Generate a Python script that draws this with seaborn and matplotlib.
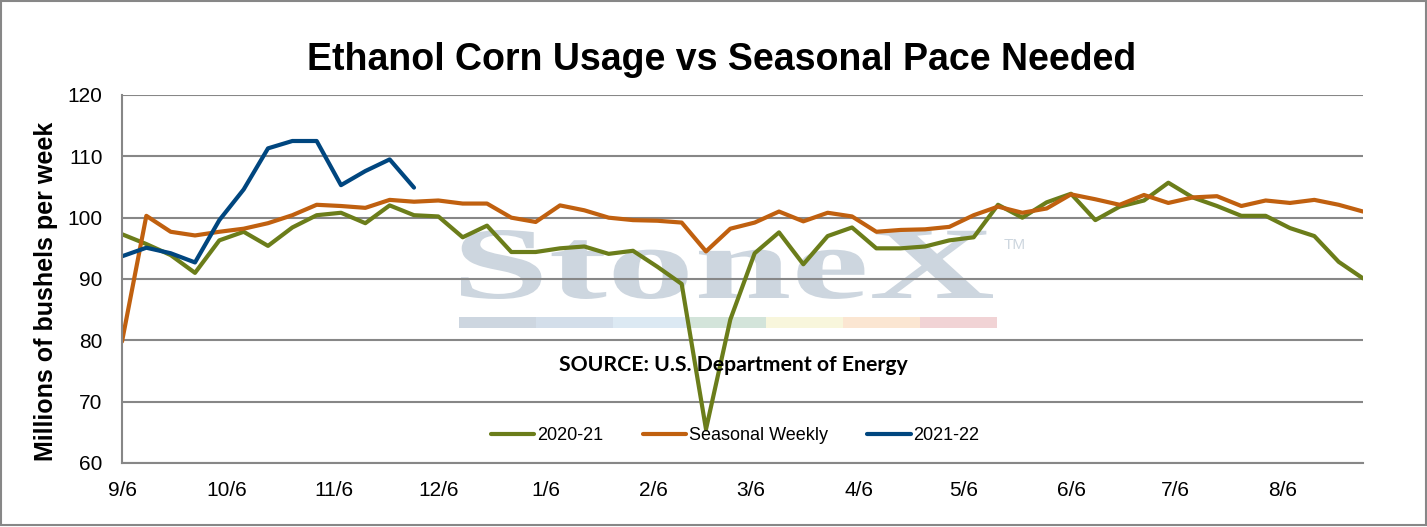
"""
Ethanol corn usage vs the seasonal weekly pace needed (StoneX style chart).

Output:
    out.png
"""

import matplotlib

matplotlib.use("Agg")

import matplotlib.dates as mdates
import matplotlib.pyplot as plt
import pandas as pd
import seaborn as sns
from matplotlib.font_manager import FontProperties
from matplotlib.patches import PathPatch, Rectangle
from matplotlib.textpath import TextPath
from matplotlib.ticker import FuncFormatter
from matplotlib.transforms import Affine2D

W, H = 1427, 527

# weekly data, first week ending 9/6
WEEK_START = "2020-09-06"
N_WEEKS = 52

usage_2020_21 = [
    97.3, 95.7, 93.9, 91.0, 96.3, 97.7, 95.4, 98.4, 100.4, 100.8,
    99.1, 102.0, 100.4, 100.2, 96.8, 98.7, 94.4, 94.4, 95.0, 95.3,
    94.1, 94.6, 92.0, 89.2, 65.5, 83.4, 94.2, 97.6, 92.4, 97.0,
    98.4, 95.0, 95.0, 95.3, 96.3, 96.8, 102.1, 100.0, 102.5, 103.9,
    99.6, 101.8, 102.8, 105.7, 103.3, 101.9, 100.3, 100.3, 98.3, 97.0,
    92.8, 90.1,
]
seasonal_weekly = [
    79.8, 100.3, 97.7, 97.1, 97.7, 98.2, 99.1, 100.4, 102.1, 101.9,
    101.6, 102.9, 102.6, 102.8, 102.3, 102.3, 100.0, 99.3, 102.0, 101.2,
    100.0, 99.6, 99.5, 99.2, 94.5, 98.2, 99.2, 101.0, 99.4, 100.8,
    100.2, 97.7, 98.0, 98.1, 98.5, 100.4, 101.8, 100.8, 101.5, 103.8,
    103.0, 102.1, 103.7, 102.4, 103.3, 103.5, 101.9, 102.8, 102.4, 102.9,
    102.1, 101.0,
]
usage_2021_22 = [
    93.7, 95.1, 94.2, 92.7, 99.6, 104.6, 111.3, 112.5, 112.5, 105.3,
    107.6, 109.5, 104.9,
]

SERIES_NAMES = ["2020-21", "Seasonal Weekly", "2021-22"]
SERIES_COLORS = ["#6B7D1A", "#C0600F", "#00467F"]
Y_TICKS = [60, 70, 80, 90, 100, 110, 120]

GRID_COLOR = "#878787"
MARK_COLOR = "#CDD6DF"
BAR_COLORS = ["#CDD6E0", "#D3DEEA", "#DCE9F3", "#D3E4DA", "#F8F6DC", "#FBE6D2", "#F1D3D5"]


def fx(px):
    return px / W


def fy(py):
    return 1 - py / H


def build_frame() -> pd.DataFrame:
    weeks = pd.date_range(WEEK_START, periods=N_WEEKS, freq="7D")
    parts = []
    for name, values in zip(SERIES_NAMES, [usage_2020_21, seasonal_weekly, usage_2021_22]):
        parts.append(
            pd.DataFrame({"week": weeks[: len(values)], "bushels": values, "series": name})
        )
    return pd.concat(parts, ignore_index=True)


def add_watermark(fig, ax) -> None:
    """Faint StoneX logo behind the lines."""
    tp = TextPath((0, 0), "StoneX", size=100,
                  prop=FontProperties(family="Liberation Serif", weight="bold"))
    ext = tp.get_extents()
    x0, x1, top, base = 461, 993, 230, 299
    tr = (
        Affine2D()
        .translate(-ext.x0, -ext.y0)
        .scale((x1 - x0) / ext.width / W, (base - top) / ext.height / H)
        .translate(fx(x0), fy(base))
    )
    ax.add_artist(
        PathPatch(tr.transform_path(tp), transform=fig.transFigure, facecolor=MARK_COLOR,
                  edgecolor="none", zorder=0.2, clip_on=False)
    )
    fig.text(fx(1004), fy(245), "TM", fontsize=11, color=MARK_COLOR, va="center")

    seg_w = (997 - 459) / len(BAR_COLORS)
    for i, c in enumerate(BAR_COLORS):
        ax.add_artist(
            Rectangle((fx(459 + i * seg_w), fy(328)), seg_w / W, 11 / H,
                      transform=fig.transFigure, facecolor=c, edgecolor="none",
                      zorder=0.2, clip_on=False)
        )


def main() -> None:
    sns.set_style("white")
    plt.rcParams["font.family"] = ["Liberation Sans", "DejaVu Sans"]
    plt.rcParams["text.color"] = "black"

    df = build_frame()

    fig = plt.figure(figsize=(W / 100, H / 100), dpi=100)
    ax = fig.add_axes([fx(122), fy(463), fx(1363) - fx(122), fy(95) - fy(463)])

    sns.lineplot(
        data=df, x="week", y="bushels", hue="series", hue_order=SERIES_NAMES,
        palette=SERIES_COLORS, linewidth=3, legend=False, ax=ax,
    )
    for line in ax.lines:
        line.set_solid_capstyle("round")
        line.set_solid_joinstyle("round")
        line.set_zorder(2)

    ax.set_xlim(pd.Timestamp(WEEK_START), pd.Timestamp("2021-08-29"))
    ax.set_ylim(60, 120)
    ax.set_yticks(Y_TICKS)
    ax.xaxis.set_major_locator(mdates.MonthLocator(bymonthday=6))
    ax.xaxis.set_major_formatter(
        FuncFormatter(lambda v, _: f"{mdates.num2date(v).month}/{mdates.num2date(v).day}")
    )
    ax.set_xlabel("")
    ax.set_ylabel("")
    ax.tick_params(axis="both", length=0, labelsize=15, colors="black")
    ax.tick_params(axis="x", pad=13)
    ax.tick_params(axis="y", pad=14)

    ax.set_axisbelow(True)
    ax.grid(axis="y", color=GRID_COLOR, linewidth=1.5)
    ax.grid(axis="x", visible=False)
    for side in ["top", "right"]:
        ax.spines[side].set_visible(False)
    for side in ["left", "bottom"]:
        ax.spines[side].set_color(GRID_COLOR)
        ax.spines[side].set_linewidth(1.5)

    add_watermark(fig, ax)

    fig.text(fx(722), fy(70), "Ethanol Corn Usage vs Seasonal Pace Needed",
             ha="center", va="baseline", fontsize=27, fontweight="bold")
    fig.text(fx(46), fy(291), "Millions of bushels per week", rotation=90,
             ha="center", va="center", fontsize=18, fontweight="bold")
    fig.text(fx(733), fy(365), "SOURCE: U.S. Department of Energy", ha="center",
             va="center", fontsize=15.3, fontweight="bold", family=["Lato", "DejaVu Sans"])

    ax.legend(
        ax.lines, SERIES_NAMES, loc="center", bbox_to_anchor=(fx(735), fy(436)),
        bbox_transform=fig.transFigure, ncol=3, frameon=False, fontsize=13,
        handlelength=2.4, handletextpad=0.15, columnspacing=2.2,
    )

    # outer chart border
    fig.add_artist(Rectangle((fx(1), fy(525)), fx(1425), 524 / H, transform=fig.transFigure,
                             facecolor="none", edgecolor=GRID_COLOR, linewidth=1.5))

    fig.savefig("out.png", dpi=100, facecolor="white")
    plt.close(fig)


if __name__ == "__main__":
    main()
